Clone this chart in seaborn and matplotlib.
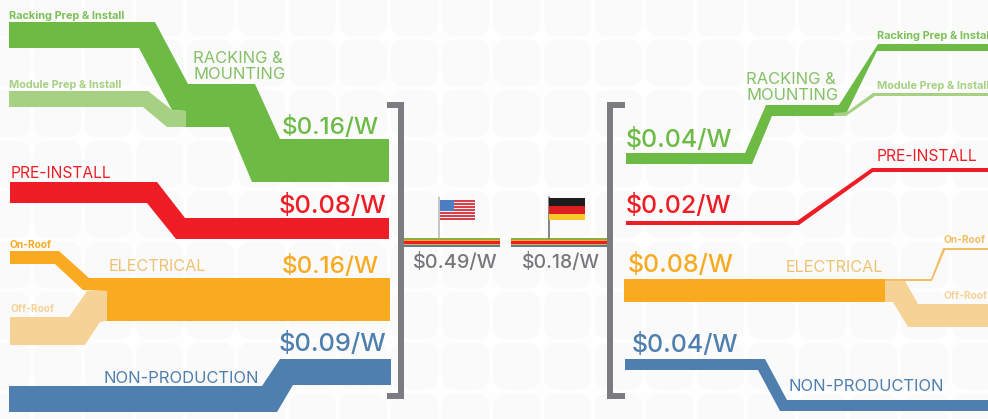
import matplotlib.pyplot as plt
from matplotlib.patches import FancyBboxPatch
import seaborn as sns

# cost per watt
usa_costs = [0.16, 0.08, 0.16, 0.09]
germany_costs = [0.04, 0.02, 0.08, 0.04]
totals = [0.49, 0.18]

GREEN = "#6dbb45"
GREEN_LIGHT = "#a6d182"
RED = "#ee1c25"
ORANGE = "#f9aa20"
ORANGE_LIGHT = "#f5d396"
BLUE = "#4f7fae"
GREY = "#7b7b80"

# band outlines, in image pixels
us_racking = ([9, 155, 188, 255, 280, 389, 389, 252, 229, 186, 186, 172, 139, 9],
              [22, 22, 84, 84, 139, 139, 182, 182, 127, 127, 111, 110, 48, 48])
us_module = ([9, 148, 172, 186, 186, 167, 143, 9],
             [91, 91, 110, 111, 127, 127, 107, 107])
us_preinstall = ([10, 157, 185, 389, 389, 176, 147, 10],
                 [182, 182, 218, 218, 239, 239, 203, 203])
us_onroof = ([10, 59, 89, 390, 390, 107, 107, 83, 55, 10],
             [251, 251, 278, 278, 321, 321, 291, 290, 264, 264])
us_offroof = ([10, 69, 87, 107, 107, 100, 85, 10],
              [317, 317, 291, 291, 321, 322, 345, 345])
us_nonprod = ([9, 262, 280, 391, 391, 293, 277, 9],
              [386, 386, 359, 359, 385, 385, 412, 412])

de_racking = ([988, 878, 839, 766, 745, 626, 626, 752, 772, 845, 877, 988],
              [44, 44, 105, 105, 153, 153, 164, 164, 116, 116, 51, 51])
de_module = ([988, 873, 847, 834, 834, 846, 875, 988],
             [93, 93, 112, 113, 116, 116, 96, 96])
de_preinstall = ([988, 872, 797, 626, 626, 799, 873, 988],
                 [168, 168, 221, 221, 225, 225, 172, 172])
de_electrical = ([624, 885, 885, 624], [279, 279, 302, 302])
de_onroof = ([885, 931, 943, 988, 988, 945, 932, 885],
             [279, 279, 248, 248, 250, 250, 281, 281])
de_offroof = ([885, 905, 918, 988, 988, 908, 893, 885],
              [281, 281, 304, 304, 327, 327, 302, 302])
de_nonprod = ([625, 765, 787, 988, 988, 780, 758, 625],
              [359, 359, 400, 400, 411, 411, 370, 370])

bands = [
    (us_racking, GREEN), (us_module, GREEN_LIGHT), (us_preinstall, RED),
    (us_onroof, ORANGE), (us_offroof, ORANGE_LIGHT), (us_nonprod, BLUE),
    (de_racking, GREEN), (de_module, GREEN_LIGHT), (de_preinstall, RED),
    (de_electrical, ORANGE), (de_onroof, "#f3bd62"), (de_offroof, ORANGE_LIGHT),
    (de_nonprod, BLUE),
]

sns.set_theme(style="white")
plt.rcParams['font.family'] = ['Inter', 'DejaVu Sans']

fig = plt.figure(figsize=(9.88, 4.19), dpi=100, facecolor="#fefefe")
ax = fig.add_axes([0, 0, 1, 1])
ax.set_xlim(0, 988)
ax.set_ylim(419, 0)
ax.axis("off")

# faint solar panel cells behind everything
for col in range(-9, 11):
    for row in range(-2, 7):
        x0 = 442 + 51 * col + 10
        y0 = 90 + 50.5 * row + 10
        ax.add_patch(FancyBboxPatch((x0, y0), 27, 27, boxstyle="round,pad=10,rounding_size=14",
                                    fc="#fafafa", ec="none", zorder=0))

for (xs, ys), color in bands:
    ax.fill(xs, ys, color=color, lw=0, zorder=2)

# brackets
for x, y in [([387, 401, 401, 387], [105, 105, 396, 396]),
             ([625, 610, 610, 625], [105, 105, 396, 396])]:
    sns.lineplot(x=x, y=y, sort=False, estimator=None, color=GREY, lw=4.3, ax=ax,
                 solid_joinstyle="miter", solid_capstyle="butt", zorder=3)

# rainbow totals
stripes = [(238, 239.5, "#8dae3c"), (239.5, 241, ORANGE), (241, 243.5, RED),
           (243.5, 244.5, ORANGE), (244.5, 247, BLUE)]
for x0, x1 in [(403, 500), (511, 608)]:
    for y0, y1, color in stripes:
        ax.fill_between([x0, x1], y0, y1, color=color, lw=0, zorder=2)

# flags
sns.lineplot(x=[439, 439], y=[197, 238], color="#b5b5b5", lw=1.1, ax=ax, estimator=None, sort=False)
sns.lineplot(x=[549, 549], y=[197, 238], color="#666666", lw=1.1, ax=ax, estimator=None, sort=False)
for i in range(13):
    y0 = 200 + i * 20 / 13
    ax.fill_between([440, 475], y0, y0 + 20 / 13, color="#d8414b" if i % 2 == 0 else "#f5f0f0", lw=0, zorder=2)
ax.fill_between([440, 454], 200, 211, color="#4a7fc4", lw=0, zorder=3)
ax.fill_between([549, 585], 198, 206, color="#1c1c1c", lw=0, zorder=2)
ax.fill_between([549, 585], 206, 213.5, color="#dd1f1f", lw=0, zorder=2)
ax.fill_between([549, 585], 213.5, 220, color="#f9c62c", lw=0, zorder=2)

def price(value):
    return f"${value:.2f}/W"

def label(x, y, s, color, size, weight="normal"):
    ax.text(x, y, s, color=color, fontsize=size, fontweight=weight, va="baseline", ha="left", zorder=4)

SMALL = 7.9
ROOF = 7.3
TITLE = 11.9

# left side, USA
label(9, 19, "Racking Prep & Install", "#7cc158", SMALL, "bold")
label(9, 88, "Module Prep & Install", GREEN_LIGHT, SMALL, "bold")
label(193, 63, "RACKING &", "#84c164", TITLE)
label(193, 79, "MOUNTING", "#84c164", TITLE)
label(11, 178, "PRE-INSTALL", RED, 11.2)
label(9, 248, "On-Roof", ORANGE, ROOF, "bold")
label(10, 312, "Off-Roof", ORANGE_LIGHT, ROOF, "bold")
label(109, 271, "ELECTRICAL", "#eec273", 11.7)
label(103, 383, "NON-PRODUCTION", BLUE, TITLE)
for x, y, v, c, s in zip([282, 279, 282, 279], [134, 213, 273, 351], usa_costs,
                         [GREEN, RED, ORANGE, BLUE], [17.4, 18.3, 17.4, 18.3]):
    label(x, y, price(v), c, s, "medium")

# right side, Germany
label(877, 39, "Racking Prep & Install", "#7cc158", SMALL, "bold")
label(877, 89, "Module Prep & Install", GREEN_LIGHT, SMALL, "bold")
label(746, 84, "RACKING &", "#84c164", TITLE)
label(746, 100, "MOUNTING", "#84c164", TITLE)
label(877, 161, "PRE-INSTALL", RED, 11.2)
label(943, 243, "On-Roof", "#f3bd62", ROOF, "bold")
label(943, 299, "Off-Roof", ORANGE_LIGHT, ROOF, "bold")
label(786, 272, "ELECTRICAL", "#eec273", 11.7)
label(788, 391, "NON-PRODUCTION", BLUE, TITLE)
for x, y, v, c in zip([626, 626, 628, 632], [147, 213, 272, 352], germany_costs, [GREEN, RED, ORANGE, BLUE]):
    label(x, y, price(v), c, 18, "medium")

# totals
label(413, 268, price(totals[0]), "#77777b", 14.3, "medium")
label(522, 268, price(totals[1]), "#77777b", 14, "medium")

fig.savefig("out.png", dpi=100, facecolor=fig.get_facecolor())
plt.close(fig)
